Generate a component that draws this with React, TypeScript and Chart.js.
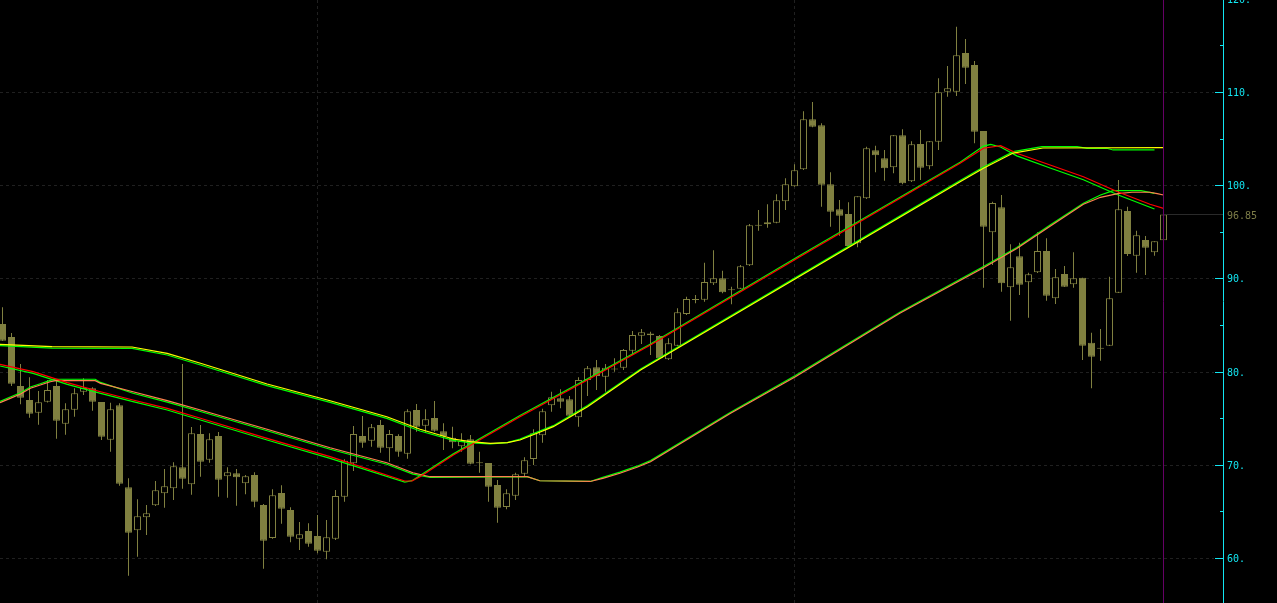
import React, { useEffect, useRef } from 'react';
import { Chart, registerables } from 'chart.js';

Chart.register(...registerables);

// ---- OHLC data (one candle per index) ----
const OPEN = [
  85.11, 83.71, 78.45, 76.95, 75.59, 76.77, 78.45, 74.41, 75.91, 77.84,
  78.21, 76.74, 72.69, 76.38, 67.58, 62.97, 64.36, 65.65, 66.94, 67.48,
  69.73, 67.90, 73.30, 70.54, 73.09, 68.76, 69.08, 68.01, 68.90, 65.68,
  62.14, 66.97, 65.15, 62.07, 62.89, 62.36, 60.67, 62.07, 66.57, 70.16,
  73.09, 72.58, 74.27, 71.77, 73.09, 71.19, 75.88, 74.19, 75.02, 73.59,
  72.91, 71.98, 72.73, 70.27, 70.19, 67.83, 65.47, 66.68, 69.04, 70.62,
  73.16, 76.38, 77.13, 77.03, 75.09, 79.10, 80.46, 79.45, 80.22, 80.42,
  82.24, 83.85, 84.08, 83.82, 81.32, 82.78, 86.18, 87.68, 87.71, 89.47,
  90.01, 88.83, 88.89, 91.40, 95.65, 95.80, 95.97, 98.27, 99.88, 101.70,
  107.07, 106.43, 100.09, 97.41, 96.91, 93.76, 98.59, 103.74, 102.88, 101.92,
  105.35, 100.42, 104.42, 102.03, 104.67, 110.03, 110.03, 114.18, 112.90, 105.81,
  94.94, 97.63, 89.04, 92.37, 89.58, 90.65, 92.94, 87.86, 90.47, 89.37,
  90.07, 83.10, 82.46, 82.78, 88.46, 97.23, 92.43, 94.12, 92.80, 94.09,
];
const HIGH = [
  86.90, 84.14, 80.81, 79.39, 77.92, 79.10, 79.10, 76.60, 78.21, 79.28,
  78.31, 76.74, 76.66, 76.60, 68.55, 66.30, 65.68, 68.26, 69.55, 70.27,
  80.81, 74.05, 74.27, 73.38, 73.52, 69.73, 69.55, 68.90, 69.19, 65.79,
  67.37, 67.80, 65.44, 63.86, 63.72, 64.61, 64.07, 67.29, 70.59, 74.16,
  75.23, 74.37, 74.80, 73.73, 73.27, 75.95, 76.52, 75.95, 76.84, 74.45,
  74.09, 73.38, 73.20, 71.40, 70.19, 68.37, 67.37, 69.15, 70.80, 73.81,
  76.02, 77.84, 78.10, 77.38, 79.39, 80.60, 81.24, 80.81, 81.42, 82.42,
  84.35, 84.57, 84.28, 83.92, 83.57, 86.79, 88.03, 88.22, 91.68, 93.01,
  90.82, 89.11, 91.44, 95.83, 97.34, 97.95, 99.02, 100.74, 102.24, 107.93,
  108.93, 106.64, 101.38, 98.41, 98.16, 98.81, 104.13, 104.24, 103.78, 105.38,
  106.00, 104.71, 105.92, 104.74, 111.47, 112.79, 117.01, 115.69, 113.32, 105.81,
  98.23, 98.95, 93.66, 93.83, 90.61, 94.94, 94.30, 91.01, 91.33, 92.80,
  90.07, 84.17, 84.57, 90.18, 100.56, 97.69, 95.12, 94.55, 93.98, 96.88,
];
const LOW = [
  83.28, 78.45, 76.49, 75.05, 74.30, 76.68, 72.80, 73.23, 75.16, 77.49,
  75.80, 72.66, 71.40, 67.75, 58.10, 60.14, 62.46, 65.58, 65.39, 66.22,
  67.43, 66.79, 68.72, 70.22, 66.57, 66.47, 65.61, 66.83, 65.44, 58.85,
  62.07, 63.68, 61.68, 60.86, 61.21, 60.50, 59.86, 61.93, 66.04, 69.33,
  71.83, 71.94, 71.30, 70.33, 70.87, 70.65, 73.55, 73.55, 73.55, 71.59,
  71.77, 71.40, 70.05, 69.15, 66.04, 63.78, 65.22, 66.22, 68.80, 69.98,
  72.37, 75.70, 76.06, 75.16, 74.09, 77.38, 78.02, 77.84, 79.99, 80.17,
  81.78, 82.96, 81.78, 81.35, 81.24, 82.74, 86.07, 87.33, 87.50, 89.29,
  88.40, 87.22, 88.86, 91.33, 95.12, 95.44, 95.91, 97.34, 99.84, 101.63,
  106.21, 97.69, 95.55, 94.58, 93.42, 93.33, 98.52, 101.38, 100.48, 101.28,
  100.09, 100.34, 100.56, 101.70, 103.78, 109.49, 109.57, 110.86, 104.49, 89.00,
  91.44, 88.57, 85.46, 88.22, 85.78, 90.58, 87.61, 87.25, 89.08, 89.00,
  81.24, 78.21, 81.17, 82.74, 88.43, 92.40, 90.61, 90.36, 92.43, 94.05,
];
const CLOSE = [
  83.31, 78.70, 77.20, 75.48, 76.70, 78.02, 74.73, 75.95, 77.67, 78.24,
  76.77, 73.01, 75.95, 67.97, 62.71, 64.47, 64.79, 67.26, 67.69, 69.84,
  68.51, 73.38, 70.33, 72.73, 68.40, 69.19, 68.66, 68.76, 66.04, 61.85,
  66.72, 65.29, 62.28, 62.54, 61.53, 60.78, 62.22, 66.65, 70.44, 73.30,
  72.37, 74.02, 71.83, 73.30, 71.40, 75.74, 74.09, 74.88, 73.66, 73.09,
  72.41, 72.55, 70.12, 70.16, 67.65, 65.39, 66.94, 68.98, 70.48, 73.38,
  75.74, 77.24, 76.77, 75.27, 79.10, 80.35, 79.53, 80.42, 80.24, 82.31,
  83.92, 84.21, 83.89, 81.42, 83.03, 86.36, 87.79, 87.76, 89.61, 90.01,
  88.51, 88.72, 91.30, 95.69, 95.69, 96.02, 98.38, 100.09, 101.60, 107.07,
  106.28, 100.05, 97.15, 96.73, 93.47, 98.81, 103.96, 103.21, 101.81, 105.35,
  100.20, 104.39, 101.88, 104.71, 109.97, 110.40, 113.94, 112.61, 105.74, 95.55,
  98.09, 89.47, 91.19, 89.32, 90.44, 92.94, 88.14, 90.12, 89.11, 90.01,
  82.78, 81.60, 82.53, 87.86, 97.41, 92.62, 94.62, 93.29, 93.98, 96.85,
];

// ---- Moving-average lines (bar index -> value) ----
const YELLOW_AT = [-0.28, 5.5, 14.4, 18.3, 22, 29.4, 36.4, 42.7, 46.4, 50.1, 52, 54.2, 56.1, 57.5, 59.4, 61.2, 65, 70.9, 99.7, 106.4, 109, 112.3, 115.6, 129];
const YELLOW = [82.93, 82.67, 82.64, 81.96, 80.89, 78.67, 76.87, 75.16, 73.81, 72.77, 72.48, 72.30, 72.37, 72.66, 73.38, 74.09, 76.23, 80.17, 96.56, 100.37, 101.81, 103.45, 103.99, 104.02];
const GREEN1_AT = [-0.28, 5.5, 14.4, 18.3, 22, 29.4, 36.4, 42.7, 46.4, 50.1, 52, 54.2, 56.1, 57.5, 59.4, 61.2, 65, 70.9, 99.7, 106.4, 109, 112.3, 115.5, 119.4, 120.5, 122.7, 123.4, 128];
const GREEN1 = [82.78, 82.52, 82.50, 81.78, 80.71, 78.49, 76.69, 74.98, 73.63, 72.62, 72.36, 72.24, 72.37, 72.76, 73.50, 74.20, 76.35, 80.29, 96.68, 100.50, 101.95, 103.60, 104.13, 104.13, 103.96, 103.96, 103.78, 103.78];

const RED_AT = [-0.28, 3.4, 7.2, 10.9, 14.5, 18.3, 22, 29.4, 36.4, 44.7, 45.5, 46.4, 50.1, 57.5, 65, 72, 88.6, 106.4, 109, 110.9, 112.7, 116.4, 120.1, 123.9, 127.5, 129];
const RED = [80.78, 79.99, 78.81, 77.84, 76.95, 76.06, 74.99, 72.84, 70.87, 68.26, 68.26, 68.72, 71.05, 75.16, 79.10, 82.85, 92.33, 102.35, 103.96, 104.24, 103.42, 102.17, 100.91, 99.30, 97.95, 97.52];
const GREEN2_AT = [-0.28, 3.4, 7.2, 10.9, 14.5, 18.3, 22, 29.4, 36.4, 44.7, 45.5, 46.4, 50.1, 57.5, 65, 72, 88.6, 106.4, 109, 109.8, 110.9, 112.7, 116.4, 120.1, 123.9, 127.5, 128];
const GREEN2 = [80.60, 79.81, 78.63, 77.66, 76.77, 75.88, 74.81, 72.66, 70.69, 68.15, 68.30, 68.85, 71.17, 75.28, 79.22, 82.97, 92.45, 102.47, 104.20, 104.38, 104.10, 103.15, 101.85, 100.59, 98.98, 97.63, 97.45];

const ORANGE_AT = [-0.28, 0.86, 2.0, 3.1, 4.2, 5.3, 5.9, 10.3, 10.9, 14.5, 18.3, 22, 29.4, 36.4, 42.7, 45.6, 47.5, 58.3, 59.7, 65.3, 66.7, 68.6, 70.5, 72, 80.9, 88.1, 99.7, 109, 112.7, 116.4, 120.1, 122, 123.9, 125.5, 127.5, 128.3, 129];
const ORANGE = [76.66, 77.13, 77.59, 78.21, 78.56, 78.91, 79.02, 79.02, 78.74, 77.84, 76.88, 75.88, 73.81, 71.83, 70.22, 69.15, 68.72, 68.72, 68.29, 68.21, 68.55, 69.09, 69.73, 70.33, 75.52, 79.45, 86.25, 91.15, 93.20, 95.60, 97.95, 98.70, 99.10, 99.24, 99.24, 99.10, 98.95];
const GREEN3_AT = [-0.28, 0.86, 2.0, 3.1, 4.2, 5.3, 5.9, 10.3, 10.9, 14.5, 18.3, 22, 29.4, 36.4, 42.7, 45.6, 47.5, 58.3, 59.7, 65.3, 66.7, 68.6, 70.5, 72, 80.9, 88.1, 99.7, 109, 112.7, 116.4, 120.1, 122, 123.4, 126.5, 128];
const GREEN3 = [76.80, 77.27, 77.73, 78.35, 78.70, 79.05, 79.18, 79.18, 78.84, 77.68, 76.72, 75.72, 73.65, 71.67, 70.06, 69.00, 68.65, 68.72, 68.29, 68.21, 68.65, 69.21, 69.85, 70.45, 75.64, 79.57, 86.37, 91.27, 93.32, 95.72, 98.07, 98.95, 99.41, 99.41, 99.13];

// ---- axis ----
const Y_TICKS = [60, 65, 70, 75, 80, 85, 90, 95, 100, 105, 110, 115, 120];
const Y_LABELED = [60, 70, 80, 90, 100, 110, 120];
const V_GRID_AT = [35, 88];
const LAST_PRICE = 96.85;
const LAST_PRICE_LABEL = '96.85';

// ---- layout / style constants ----
const W = 1277;
const H = 603;
const BAR_STEP = 9;
const X_MIN = -2.5 / BAR_STEP;
const X_MAX = X_MIN + W / BAR_STEP;
const Y_MAX = 119.87;
const Y_MIN = Y_MAX - H / 9.32;
const AXIS_X = 1223;
const OLIVE = '#808040';
const CYAN = '#12e6f2';
const LINE_W = 1.2;

const overlay = {
  id: 'terminalOverlay',
  beforeDatasetsDraw(chart: any) {
    const { ctx, scales } = chart;
    const y = scales.y;
    const x = scales.x;
    ctx.save();
    ctx.strokeStyle = '#202020';
    ctx.lineWidth = 1;
    ctx.setLineDash([3, 3]);
    for (const t of Y_LABELED) {
      const py = Math.round(y.getPixelForValue(t)) + 0.5;
      ctx.beginPath();
      ctx.moveTo(0, py);
      ctx.lineTo(AXIS_X - 9, py);
      ctx.stroke();
    }
    for (const i of V_GRID_AT) {
      const px = Math.floor(x.getPixelForValue(i)) + 0.5;
      ctx.beginPath();
      ctx.moveTo(px, 0);
      ctx.lineTo(px, H);
      ctx.stroke();
    }
    ctx.restore();
  },
  afterDatasetsDraw(chart: any) {
    const { ctx, scales } = chart;
    const y = scales.y;
    const x = scales.x;
    ctx.save();
    // crosshair on last bar
    const lastX = Math.floor(x.getPixelForValue(OPEN.length - 1)) + 0.5;
    ctx.strokeStyle = '#660066';
    ctx.lineWidth = 1;
    ctx.beginPath();
    ctx.moveTo(lastX, 0);
    ctx.lineTo(lastX, H);
    ctx.stroke();
    // last price line
    const pp = Math.round(y.getPixelForValue(LAST_PRICE)) - 0.5;
    ctx.strokeStyle = '#2a2a2a';
    ctx.beginPath();
    ctx.moveTo(lastX + 0.5, pp);
    ctx.lineTo(AXIS_X, pp);
    ctx.stroke();
    // axis line
    ctx.strokeStyle = CYAN;
    ctx.beginPath();
    ctx.moveTo(AXIS_X + 0.5, 0);
    ctx.lineTo(AXIS_X + 0.5, H);
    ctx.stroke();
    ctx.font = '10px "DejaVu Sans Mono", monospace';
    ctx.textBaseline = 'alphabetic';
    ctx.textAlign = 'left';
    for (const t of Y_TICKS) {
      const py = Math.round(y.getPixelForValue(t)) + 0.5;
      const major = Y_LABELED.includes(t);
      ctx.beginPath();
      ctx.moveTo(major ? AXIS_X - 8 : AXIS_X - 3, py);
      ctx.lineTo(AXIS_X, py);
      ctx.stroke();
      if (major) {
        ctx.fillStyle = CYAN;
        ctx.fillText(`${t}.`, AXIS_X + 4, py + 3.5);
      }
    }
    ctx.fillStyle = '#7d7d48';
    ctx.fillText(LAST_PRICE_LABEL, AXIS_X + 4, pp + 4);
    ctx.restore();
  },
};

export default function App() {
  const ref = useRef<HTMLCanvasElement>(null);
  useEffect(() => {
    document.body.style.margin = '0';
    document.body.style.background = '#000';
    const canvas = ref.current!;
    const idx = OPEN.map((_, i) => i);
    const wickData = idx.map((i) => ({ x: i, y: [LOW[i], HIGH[i]] }));
    const bodyData = idx.map((i) => ({
      x: i,
      y: [Math.min(OPEN[i], CLOSE[i]), Math.max(OPEN[i], CLOSE[i])],
    }));
    const bodyFill = idx.map((i) => (CLOSE[i] < OPEN[i] ? OLIVE : '#000000'));
    const line = (at: number[], vals: number[], color: string, order: number) => ({
      type: 'line' as const,
      data: at.map((xv, j) => ({ x: xv, y: vals[j] })),
      borderColor: color,
      borderWidth: LINE_W,
      pointRadius: 0,
      tension: 0,
      fill: false,
      order,
    });
    const chart = new Chart(canvas, {
      type: 'bar',
      data: {
        datasets: [
          {
            type: 'bar',
            data: wickData as any,
            backgroundColor: OLIVE,
            borderWidth: 0,
            barThickness: 1,
            grouped: false,
            inflateAmount: 0,
            order: 4,
          } as any,
          {
            type: 'bar',
            data: bodyData as any,
            backgroundColor: bodyFill,
            borderColor: OLIVE,
            borderWidth: 1,
            borderSkipped: false,
            barThickness: 7,
            grouped: false,
            minBarLength: 1,
            inflateAmount: 0,
            order: 3,
          } as any,
          line(GREEN1_AT, GREEN1, '#00ff00', 1),
          line(GREEN2_AT, GREEN2, '#00ff00', 1),
          line(GREEN3_AT, GREEN3, '#00ff00', 1),
          line(YELLOW_AT, YELLOW, '#ffff00', 0),
          line(RED_AT, RED, '#ff0000', 0),
          line(ORANGE_AT, ORANGE, '#ff8050', 0),
        ] as any,
      },
      options: {
        responsive: false,
        animation: false,
        devicePixelRatio: 1,
        events: [],
        layout: { padding: 0 },
        plugins: { legend: { display: false }, tooltip: { enabled: false } },
        scales: {
          x: { type: 'linear', min: X_MIN, max: X_MAX, offset: false, display: false },
          y: { type: 'linear', min: Y_MIN, max: Y_MAX, display: false },
        },
      } as any,
      plugins: [overlay],
    });
    return () => chart.destroy();
  }, []);
  return (
    <div style={{ width: W, height: H, background: '#000' }}>
      <canvas ref={ref} width={W} height={H} style={{ display: 'block' }} />
    </div>
  );
}
